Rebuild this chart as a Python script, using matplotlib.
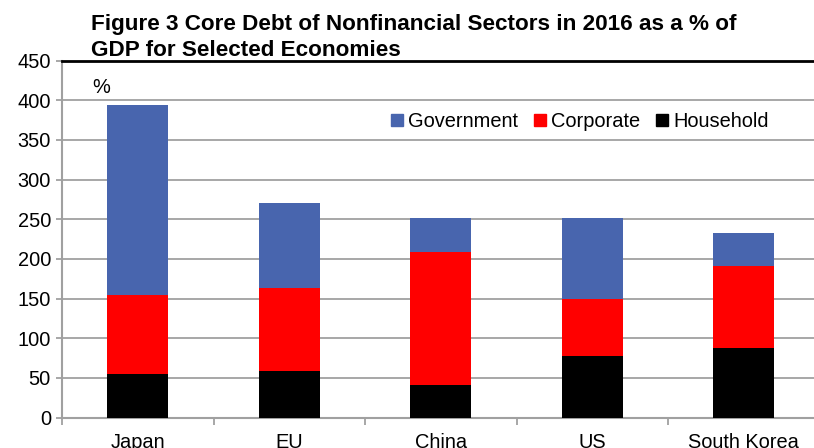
import numpy as np
import matplotlib.pyplot as plt
from matplotlib.lines import Line2D

plt.rcParams['font.family'] = ['Liberation Sans', 'DejaVu Sans']

# Core debt by sector, % of GDP, 2016
economies = ['Japan', 'EU', 'China', 'US', 'South Korea']
household = [55, 58, 41, 78, 88]
corporate = [99, 105, 167, 71, 103]
government = [240, 107, 44, 103, 42]

c_gov = '#4865ae'
c_corp = '#ff0000'
c_house = '#000000'
grey = '#a0a0a0'
fs = 14.4

fig = plt.figure(figsize=(8.14, 4.48), dpi=100)
ax = fig.add_axes([62 / 814, 30.5 / 448, 757.5 / 814, 357 / 448])

x = np.arange(len(economies))
house = np.array(household)
corp = np.array(corporate)
gov = np.array(government)
w = 0.4

ax.bar(x, house, width=w, color=c_house, zorder=3)
ax.bar(x, corp, width=w, bottom=house, color=c_corp, zorder=3)
ax.bar(x, gov, width=w, bottom=house + corp, color=c_gov, zorder=3)

ax.set_xlim(-0.5, len(economies) - 0.5)
ax.set_ylim(0, 450)
ax.set_yticks(np.arange(0, 451, 50))
ax.set_xticks(x)
ax.set_xticklabels(economies)
ax.set_xticks(np.arange(-0.5, len(economies)), minor=True)

ax.yaxis.grid(True, color=grey, linewidth=1.3, zorder=0)
ax.set_axisbelow(True)

for s in ['left', 'bottom']:
    ax.spines[s].set_color(grey)
    ax.spines[s].set_linewidth(1.5)
ax.spines['right'].set_visible(False)
ax.spines['top'].set_color('black')
ax.spines['top'].set_linewidth(2)

ax.tick_params(axis='y', length=4, width=1.3, color=grey, labelsize=fs, pad=4)
ax.tick_params(axis='x', which='major', length=0, labelsize=fs, pad=11)
ax.tick_params(axis='x', which='minor', length=5, width=1.3, color=grey)

ax.text(0.04, 0.925, '%', transform=ax.transAxes, fontsize=fs, va='center')

# legend with small square swatches in one row
handles = [Line2D([], [], marker='s', linestyle='none', markersize=8, color=c)
           for c in (c_gov, c_corp, c_house)]
ax.legend(handles, ['Government', 'Corporate', 'Household'], ncol=3,
          frameon=False, fontsize=fs, loc='center left',
          bbox_to_anchor=(0.42, 0.83), handletextpad=0.2, columnspacing=0.75,
          handlelength=0.7, borderpad=0)

fig.text(91 / 814, 1 - 30 / 448, 'Figure 3 Core Debt of Nonfinancial Sectors in 2016 as a % of',
         fontsize=16.2, fontweight='bold', va='baseline')
fig.text(91 / 814, 1 - 55.5 / 448, 'GDP for Selected Economies',
         fontsize=16.2, fontweight='bold', va='baseline')

fig.savefig('out.png', dpi=100)
